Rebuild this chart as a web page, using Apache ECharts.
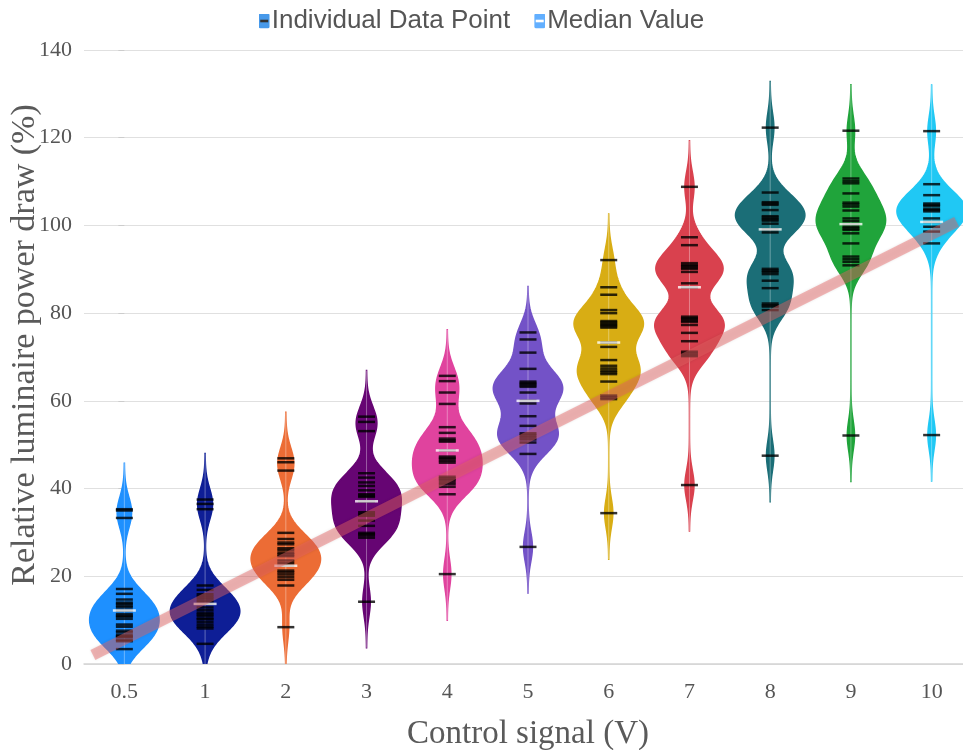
<!DOCTYPE html>
<html><head><meta charset="utf-8">
<script src="https://cdn.jsdelivr.net/npm/echarts@6/dist/echarts.min.js"></script>
<style>html,body{margin:0;padding:0;background:#fff}#main{width:963px;height:750px}</style>
</head><body><div id="main"></div>
<script>
// ---- data ----
const categories = ['0.5', '1', '2', '3', '4', '5', '6', '7', '8', '9', '10'];
const violinColors = ['#1e90ff', '#0e1e96', '#ec6c35', '#660573', '#e0439e', '#7352c7',
                      '#d8ad14', '#d9414e', '#1b6e77', '#20a43b', '#20c8f4'];
// individual data points (overlapping dashes counted as several points)
const pts_0_5 = [35.3, 35.0, 33.3, 17.1, 16.0, 14.7, 14.0, 13.7, 13.3, 12.9, 12.2, 11.4, 11.0, 10.8, 10.3, 9.0, 8.5, 7.6, 7.2, 6.6, 6.3, 6.1, 5.5, 5.2, 3.4];
const pts_1 = [37.5, 36.5, 35.3, 17.9, 16.9, 15.9, 15.4, 14.9, 14.3, 13.7, 12.9, 12.3, 11.7, 11.3, 11.0, 10.4, 10.2, 9.6, 9.0, 8.5, 8.1, 4.6];
const pts_2 = [46.9, 46.0, 44.1, 29.9, 28.5, 27.7, 27.3, 26.4, 26.0, 25.4, 25.0, 24.6, 23.6, 23.0, 22.4, 21.3, 20.9, 20.4, 19.8, 19.2, 17.9, 8.4];
const pts_3 = [56.4, 55.2, 53.1, 43.5, 42.5, 41.4, 40.6, 39.6, 38.7, 38.4, 38.1, 37.1, 34.6, 34.2, 33.8, 32.7, 31.5, 29.9, 29.6, 29.3, 28.8, 14.2];
const pts_4 = [65.7, 64.5, 61.9, 59.3, 54.0, 52.7, 51.4, 51.0, 50.7, 48.7, 47.3, 47.0, 46.7, 46.3, 45.9, 42.7, 42.3, 42.0, 41.5, 41.0, 40.4, 38.7, 20.5];
const pts_5 = [75.6, 74.0, 71.0, 67.3, 64.4, 64.1, 63.8, 63.5, 63.2, 61.9, 60.0, 59.4, 56.5, 54.3, 52.6, 52.2, 51.7, 51.2, 50.5, 47.9, 26.7];
const pts_6 = [92.1, 85.9, 84.2, 80.7, 80.0, 78.2, 77.9, 77.6, 77.3, 77.0, 76.7, 73.3, 72.3, 69.3, 68.0, 67.4, 66.9, 66.5, 66.1, 64.4, 61.2, 60.8, 60.4, 34.4];
const pts_7 = [108.8, 97.3, 95.5, 91.4, 91.0, 90.7, 90.4, 90.1, 89.4, 86.8, 85.9, 79.2, 78.9, 78.6, 78.3, 78.0, 77.3, 75.5, 73.6, 71.2, 70.7, 70.2, 40.8];
const pts_8 = [122.3, 107.5, 105.3, 105.0, 104.7, 103.5, 102.1, 101.8, 101.4, 101.1, 100.4, 99.1, 98.4, 90.1, 89.7, 89.4, 88.9, 87.4, 85.7, 82.2, 81.8, 81.5, 80.7, 47.5];
const pts_9 = [121.6, 110.7, 110.1, 109.6, 107.3, 105.2, 104.8, 104.3, 103.4, 101.6, 101.0, 100.3, 99.7, 99.3, 99.0, 98.2, 95.9, 92.9, 92.3, 91.7, 90.9, 52.1];
const pts_10 = [121.5, 109.4, 106.9, 105.0, 104.7, 104.4, 103.8, 103.5, 103.2, 101.6, 100.8, 99.7, 98.6, 95.9, 52.2];
const medians = [12.2, 13.7, 22.4, 37.1, 48.7, 60.0, 73.3, 85.9, 99.1, 100.3, 100.8];
const trendX = [-0.39, 10.31];
const trendY = [2.05, 100.8];

const pointSets = [pts_0_5, pts_1, pts_2, pts_3, pts_4, pts_5, pts_6, pts_7, pts_8, pts_9, pts_10];

// ---- kernel density profiles (computed from the data points) ----
const BW = 3.5, EXT = 10.5;
function profile(vals) {
  const lo = Math.min(...vals) - EXT, hi = Math.max(...vals) + EXT;
  const n = 220, out = [];
  let mx = 0;
  for (let k = 0; k <= n; k++) {
    const y = lo + (hi - lo) * k / n;
    let d = 0;
    for (const v of vals) { const z = (y - v) / BW; d += Math.exp(-0.5 * z * z); }
    out.push([y, d]);
    if (d > mx) mx = d;
  }
  return out.map(([y, d]) => [y, d / mx]);
}
const profiles = pointSets.map(profile);

const pointData = [];
pointSets.forEach((arr, i) => arr.forEach(v => pointData.push([i, v])));
const medianData = medians.map((v, i) => [i, v]);

function svgIcon(bg, dash) {
  const s = "<svg xmlns='http://www.w3.org/2000/svg' width='11' height='15'>" +
    "<rect x='0' y='0' width='11' height='15' rx='2' ry='2' fill='" + bg + "'/>" +
    "<rect x='1.5' y='6.2' width='8' height='2.6' fill='" + dash + "'/></svg>";
  return 'image://data:image/svg+xml;charset=utf-8,' + encodeURIComponent(s);
}

const chart = echarts.init(document.getElementById('main'), null, { renderer: 'canvas' });
const serif = 'Liberation Serif';
const option = {
  animation: false,
  backgroundColor: '#fff',
  legend: {
    top: 3, left: 'center', itemGap: 24, itemWidth: 11, itemHeight: 15,
    textStyle: { fontFamily: 'Liberation Sans', fontSize: 26, color: '#555', padding: [0, 0, 0, -3] },
    data: [
      { name: 'Individual Data Point', icon: svgIcon('#1a80e6', '#000') },
      { name: 'Median Value', icon: svgIcon('#3b9cff', '#fff') }
    ]
  },
  grid: { left: 84, right: -9, top: 50, bottom: 86, outerBoundsMode: 'none' },
  xAxis: [{
    type: 'category', data: categories,
    axisLine: { lineStyle: { color: '#d4d4d4', width: 1.5 } },
    axisTick: { show: false },
    axisLabel: { fontFamily: serif, fontSize: 22, color: '#555', margin: 17 },
    name: 'Control signal (V)', nameLocation: 'middle', nameGap: 54,
    nameTextStyle: { fontFamily: serif, fontSize: 33, color: '#5a5a5a' }
  }, {
    type: 'value', min: -0.5, max: 10.5, show: false
  }],
  yAxis: {
    type: 'value', min: 0, max: 140, interval: 20,
    axisLine: { show: false },
    axisTick: { show: true, length: 6, lineStyle: { color: '#ccc' } },
    splitLine: { lineStyle: { color: '#e0e0e0', width: 1 } },
    axisLabel: { fontFamily: serif, fontSize: 22, color: '#555', margin: 12 },
    name: 'Relative luminaire power draw (%)', nameLocation: 'middle', nameGap: 42,
    nameMoveOverlap: false,
    nameTextStyle: { fontFamily: serif, fontSize: 34, color: '#5a5a5a', padding: [0, 0, 0, 24] }
  },
  series: [{
    type: 'custom', name: 'violins', silent: true, clip: true, z: 2,
    data: categories.map((c, i) => [i]),
    encode: { x: 0 },
    renderItem: function (params, api) {
      const i = api.value(0);
      const prof = profiles[i];
      const half = api.size([1, 0])[0] * 0.43;
      const left = [], right = [];
      prof.forEach(([y, w]) => {
        const p = api.coord([i, y]);
        left.push([p[0] - w * half, p[1]]);
        right.push([p[0] + w * half, p[1]]);
      });
      const poly = left.concat(right.reverse());
      const top = api.coord([i, prof[prof.length - 1][0]]);
      const bot = api.coord([i, prof[0][0]]);
      return {
        type: 'group',
        children: [{
          type: 'polygon',
          shape: { points: poly },
          style: { fill: violinColors[i], stroke: violinColors[i], lineWidth: 1.5 }
        }, {
          type: 'line',
          shape: { x1: top[0], y1: top[1], x2: bot[0], y2: bot[1] },
          style: { stroke: 'rgba(255,255,255,0.35)', lineWidth: 1 }
        }]
      };
    }
  }, {
    type: 'scatter', name: 'Individual Data Point', z: 3,
    data: pointData, symbol: 'rect', symbolSize: [17, 2.5],
    itemStyle: { color: '#000' }, silent: true
  }, {
    type: 'scatter', name: 'Median Value', z: 4,
    data: medianData, symbol: 'rect', symbolSize: [23, 2.5],
    itemStyle: { color: '#fff' }, silent: true
  }, {
    type: 'line', name: 'trend', xAxisIndex: 1, z: 5, silent: true,
    data: trendX.map((x, i) => [x, trendY[i]]),
    symbol: 'none',
    lineStyle: { width: 11, color: 'rgba(232,100,100,0.45)', cap: 'butt',
                 shadowBlur: 3, shadowColor: 'rgba(0,0,0,0.2)' }
  }]
};
chart.setOption(option);
</script>
</body></html>
